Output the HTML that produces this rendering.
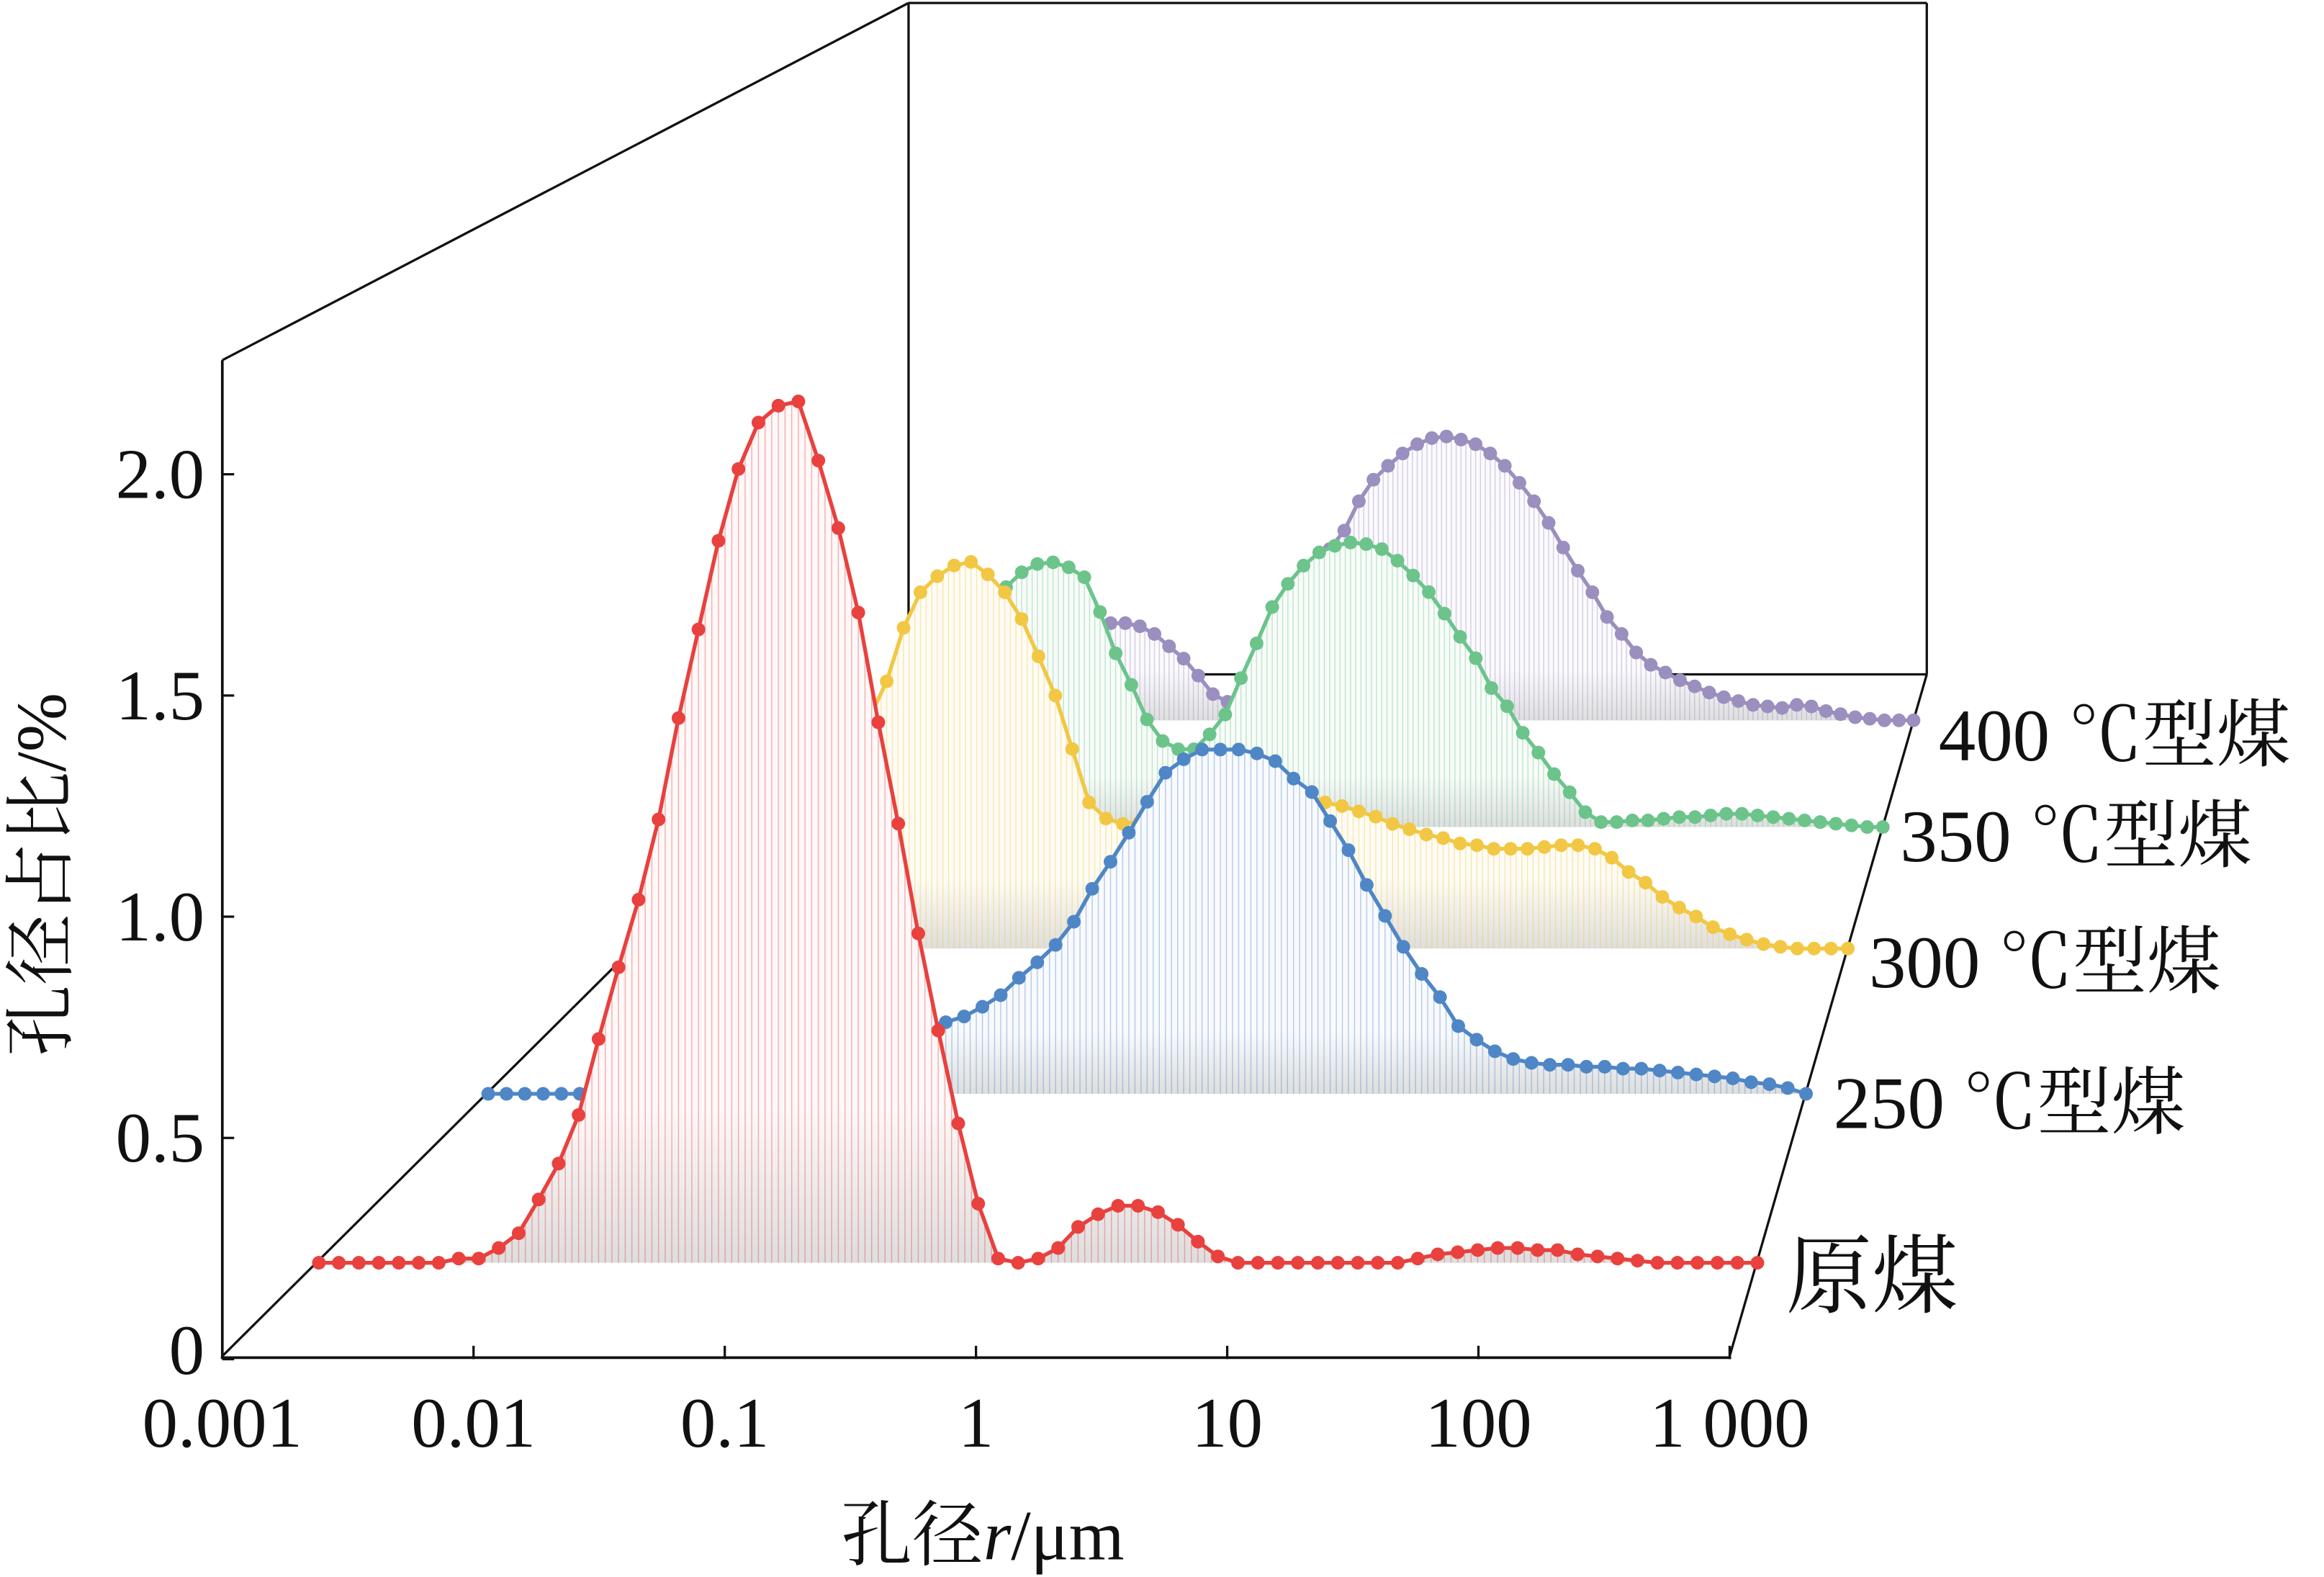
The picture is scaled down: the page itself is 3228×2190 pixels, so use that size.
<!DOCTYPE html>
<html><head><meta charset="utf-8">
<style>
html,body{margin:0;padding:0;background:#fff;}
svg{display:block;}
text{font-family:"Liberation Serif","Times New Roman","Noto Serif CJK SC","Noto Sans CJK SC",serif;fill:#111;}
</style></head>
<body>
<svg id="chart" width="3228" height="2190" viewBox="0 0 1568 1064" preserveAspectRatio="none" xmlns="http://www.w3.org/2000/svg">
<rect x="0" y="0" width="1568" height="1064" fill="#fff"/>
<g id="frame" stroke="#111" stroke-width="1.6" fill="none">
  <line x1="150" y1="243" x2="613" y2="2"/>
  <line x1="613" y1="2" x2="1300" y2="2"/>
  <line x1="1300" y1="2" x2="1300" y2="455"/>
  <line x1="613" y1="2" x2="613" y2="455"/>
  <line x1="613" y1="455" x2="1300" y2="455"/>
  <line x1="150" y1="915" x2="613" y2="455"/>
  <line x1="1167" y1="915" x2="1300" y2="455"/>
</g>
<g id="series"></g>
<g id="axes" stroke="#111" stroke-width="1.8">
  <line x1="150" y1="243" x2="150" y2="917"/>
  <line x1="149" y1="916" x2="1168" y2="916"/>
</g>
<g id="ticks"></g>
<g id="labels"></g>
<text x="663" y="1052" font-size="48" text-anchor="middle">孔径<tspan font-style="italic">r</tspan>/μm</text>
<text transform="translate(44,590) rotate(-90)" font-size="48" text-anchor="middle">孔径占比/%</text>
</svg>
<script>
// ---- data ----
const xTickLabels = ["0.001","0.01","0.1","1","10","100","1 000"];
const yTickValues = [0,0.5,1.0,1.5,2.0];
const yTickLabels = ["0","0.5","1.0","1.5","2.0"];
const seriesNames = ["原煤","250 ℃型煤","300 ℃型煤","350 ℃型煤","400 ℃型煤"];
const logStart = -3;
const logStep = 1/12;
const rawCoal = [0,0,0,0,0,0,0,.01,.01,.035,.07,.15,.235,.35,.53,.70,.86,1.05,1.29,1.50,1.71,1.88,1.99,2.03,2.04,1.90,1.74,1.54,1.28,1.04,.78,.55,.33,.14,.01,0,.01,.035,.085,.115,.135,.135,.12,.09,.05,.015,0,0,0,0,0,0,0,0,0,.01,.02,.025,.03,.035,.035,.03,.03,.02,.015,.01,.005,0,0,0,0,0,0];
const coal250 = [0,0,0,0,0,0,.005,.01,.01,.015,.02,.03,.035,.04,.05,.06,.07,.09,.10,.115,.125,.14,.155,.165,.175,.185,.20,.225,.255,.30,.34,.385,.445,.53,.60,.675,.755,.83,.865,.89,.89,.89,.88,.86,.815,.78,.705,.63,.54,.46,.38,.31,.25,.175,.14,.11,.09,.08,.075,.075,.07,.07,.065,.065,.06,.055,.05,.045,.04,.03,.025,.015,0];
const coal300 = [0,0,0,0,0,.01,.035,.075,.125,.19,.27,.37,.48,.58,.65,.75,.90,1.0,1.045,1.075,1.085,1.05,1.0,.925,.82,.71,.56,.41,.365,.35,.355,.355,.375,.39,.40,.405,.41,.42,.425,.43,.43,.41,.40,.385,.37,.35,.335,.32,.31,.295,.29,.28,.28,.28,.285,.29,.29,.28,.255,.215,.185,.145,.115,.09,.06,.04,.025,.0125,.005,0,0,0,0];
const coal350 = [0,0,0,0,0,.01,.025,.055,.09,.145,.215,.295,.395,.50,.605,.68,.725,.77,.795,.80,.785,.755,.65,.525,.43,.325,.26,.235,.235,.28,.34,.45,.555,.665,.735,.79,.83,.85,.86,.855,.84,.805,.76,.71,.645,.575,.51,.42,.365,.285,.225,.16,.105,.045,.015,.015,.02,.02,.025,.03,.03,.035,.04,.04,.035,.03,.025,.02,.015,.01,.005,0,0];
const coal400 = [0,0,0,.005,.01,.02,.035,.06,.085,.115,.145,.18,.21,.24,.27,.295,.31,.315,.315,.305,.28,.24,.20,.145,.085,.06,.07,.12,.19,.29,.385,.48,.555,.615,.71,.78,.825,.865,.895,.915,.92,.91,.895,.865,.825,.77,.71,.64,.56,.485,.415,.335,.28,.22,.18,.155,.13,.11,.09,.075,.0625,.05,.045,.04,.05,.045,.03,.02,.01,.005,0,0,0];

// ---- geometry ----
const NS="http://www.w3.org/2000/svg";
const FX0=150, FX1=1167, FY0=917, YU=298.5;
const BX0=613, BX1=1300, BY0=455;
function planeAt(base){
  const u=(FY0-base)/(FY0-BY0);
  const L=FX0+(BX0-FX0)*u, R=FX1+(BX1-FX1)*u;
  return {L:L,R:R,base:base,s:(R-L)/(FX1-FX0)};
}
function xOf(p,lg){return p.L+(lg+3)/6*(p.R-p.L);}
function yOf(p,v){return p.base - v*YU*p.s;}

const seriesDefs=[
 {data:coal400,base:486,color:"#9a8fbe",tint:"#fbfafd",name:"series-400c",label:seriesNames[4],lx:1308,ly:513},
 {data:coal350,base:558,color:"#6cc48b",tint:"#f8fcf9",name:"series-350c",label:seriesNames[3],lx:1282,ly:581},
 {data:coal300,base:640,color:"#f2c744",tint:"#fefcf5",name:"series-300c",label:seriesNames[2],lx:1261,ly:666},
 {data:coal250,base:738,color:"#4f86c6",tint:"#f8fafd",name:"series-250c",label:seriesNames[1],lx:1237,ly:761},
 {data:rawCoal,base:852,color:"#e8413e",tint:"#fef8f8",name:"series-raw-coal",label:seriesNames[0],lx:1205,ly:881}
];
const sg=document.getElementById('series');
const defs=document.createElementNS(NS,'defs');
sg.appendChild(defs);
seriesDefs.forEach((sd,k)=>{
  const p=planeAt(sd.base);
  const g=document.createElementNS(NS,'g');
  
  
  sg.appendChild(g);
  const gr=document.createElementNS(NS,'linearGradient');
  gr.setAttribute('id','gr'+k);gr.setAttribute('x1','0');gr.setAttribute('y1','0');gr.setAttribute('x2','0');gr.setAttribute('y2','1');
  gr.innerHTML='<stop offset="0" stop-color="'+sd.tint+'"/><stop offset="0.82" stop-color="'+sd.tint+'"/><stop offset="1" stop-color="#dedede"/>';
  defs.appendChild(gr);
  const pts=sd.data.map((v,i)=>[xOf(p,logStart+i*logStep),yOf(p,v)]);
  const area=document.createElementNS(NS,'path');
  
  
  let d='M'+pts[0][0]+','+p.base;
  pts.forEach(q=>{d+=' L'+q[0].toFixed(2)+','+q[1].toFixed(2);});
  d+=' L'+pts[pts.length-1][0]+','+p.base+' Z';
  area.setAttribute('d',d);
  area.setAttribute('fill','url(#gr'+k+')');
  g.appendChild(area);
  let dl='';
  for(let i=0;i<pts.length;i++){
    dl+='M'+pts[i][0].toFixed(2)+','+p.base+' V'+pts[i][1].toFixed(2)+' ';
    if(i<pts.length-1){
      for(const f of [1/3,2/3]){
        const mx=pts[i][0]+(pts[i+1][0]-pts[i][0])*f, my=pts[i][1]+(pts[i+1][1]-pts[i][1])*f;
        dl+='M'+mx.toFixed(2)+','+p.base+' V'+my.toFixed(2)+' ';
      }
    }
  }
  const drop=document.createElementNS(NS,'path');
  
  
  drop.setAttribute('d',dl);drop.setAttribute('stroke',sd.color);drop.setAttribute('stroke-opacity','0.4');drop.setAttribute('stroke-width','0.7');
  g.appendChild(drop);
  const line=document.createElementNS(NS,'polyline');
  
  
  line.setAttribute('points',pts.map(q=>q[0].toFixed(2)+','+q[1].toFixed(2)).join(' '));
  line.setAttribute('fill','none');line.setAttribute('stroke',sd.color);line.setAttribute('stroke-width','2.6');
  g.appendChild(line);
  pts.forEach(q=>{
    const c=document.createElementNS(NS,'circle');
    
    
    c.setAttribute('cx',q[0].toFixed(2));c.setAttribute('cy',q[1].toFixed(2));c.setAttribute('r','4.6');c.setAttribute('fill',sd.color);
    g.appendChild(c);
  });
  const t=document.createElementNS(NS,'text');
  
  
  t.setAttribute('x',sd.lx);t.setAttribute('y',sd.ly);t.setAttribute('font-size',k===4?'58':'50');
  t.textContent=sd.label;
  document.getElementById('labels').appendChild(t);
});
const tg=document.getElementById('ticks'), lg=document.getElementById('labels');
xTickLabels.forEach((s,i)=>{
  const x=FX0+i*(FX1-FX0)/6;
  if(i>0){
    const l=document.createElementNS(NS,'line');
    
    
    l.setAttribute('x1',x);l.setAttribute('x2',x);l.setAttribute('y1',FY0);l.setAttribute('y2',FY0-9);l.setAttribute('stroke','#111');l.setAttribute('stroke-width','1.6');
    tg.appendChild(l);
  }
  const t=document.createElementNS(NS,'text');
  
  
  t.setAttribute('x',x);t.setAttribute('y',976);t.setAttribute('font-size','48');t.setAttribute('text-anchor','middle');
  t.textContent=s;lg.appendChild(t);
});
yTickValues.forEach((v,i)=>{
  const y=FY0-v*YU;
  const l=document.createElementNS(NS,'line');
  
  
  l.setAttribute('x1',FX0);l.setAttribute('x2',FX0+8);l.setAttribute('y1',y);l.setAttribute('y2',y);l.setAttribute('stroke','#111');l.setAttribute('stroke-width','1.6');
  tg.appendChild(l);
  const t=document.createElementNS(NS,'text');
  
  
  t.setAttribute('x',138);t.setAttribute('y',y+(i===0?10:16));t.setAttribute('font-size','48');t.setAttribute('text-anchor','end');
  t.textContent=yTickLabels[i];lg.appendChild(t);
});
</script>
</body></html>
